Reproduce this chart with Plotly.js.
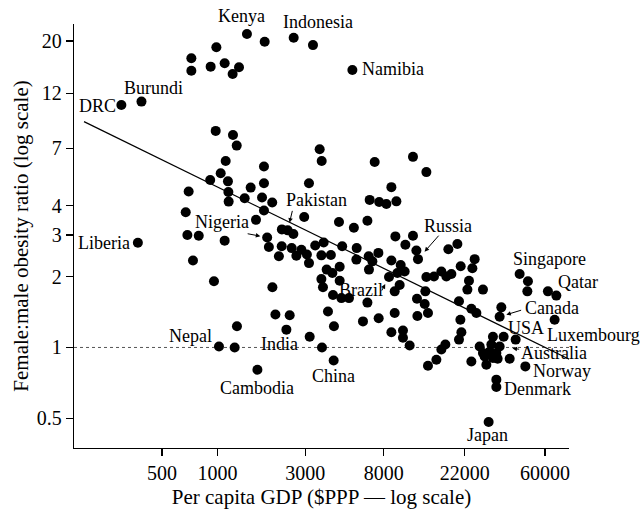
<!DOCTYPE html>
<html>
<head>
<meta charset="utf-8">
<script src="https://cdn.plot.ly/plotly-3.0.1.min.js"></script>
<style>
  html, body { margin: 0; padding: 0; background: #fff; }
  #chart { width: 644px; height: 510px; }
</style>
</head>
<body>
<div id="chart"></div>
<script>
// Countries called out by name: per capita GDP ($PPP) and female:male obesity ratio
const labeledCountry = ["Kenya", "Indonesia", "Namibia", "Burundi", "DRC", "Liberia",
  "Pakistan", "Nigeria", "Russia", "Brazil", "Singapore", "Qatar", "Canada", "USA",
  "Luxembourg", "Australia", "Norway", "Denmark", "Japan", "China", "India", "Nepal", "Cambodia"];
const labeledGdp = [1447, 3303, 5406, 387, 301, 370,
  2408, 1863, 12277, 8543, 43760, 69220, 34070, 41630,
  67760, 34070, 46990, 32700, 29700, 4278, 3697, 1020, 1649];
const labeledRatio = [21.4, 19.2, 15.06, 11.05, 10.7, 2.78,
  3.14, 2.93, 2.37, 1.99, 2.05, 1.66, 1.35, 1.08,
  1.31, 1.01, 0.831, 0.679, 0.483, 0.881, 1.00, 1.01, 0.804];

// All other countries
const otherGdp = [1806, 2595, 722, 722, 987, 919, 1095, 1310, 1210,
  979, 1215, 1273, 3592, 3683, 7144, 11532, 13632, 1109, 1790,
  914, 1042, 1141, 1147, 1151, 698, 1516, 1790, 3142, 8803,
  1406, 1747, 1984, 1790, 673, 2960, 1620, 6711, 7557, 8270, 9370,
  4572, 5508, 6523, 687, 792, 1095, 2239, 2585, 1903, 2234, 2531,
  2858, 3396, 3776, 9254, 11532, 10485, 12033, 17950, 20092, 4759,
  5704, 737, 2157, 2684, 3061, 3669, 4132, 6629, 7482, 8803, 24937,
  3142, 3920, 4612, 5682, 6941, 9887, 958, 1989, 3669, 3743, 4210,
  4612, 4242, 4711, 5181, 6653, 9487, 10394, 9763, 9174, 13632,
  14995, 16444, 17508, 18637, 20937, 24230, 13464, 12125, 13347,
  6523, 3985, 2065, 2469, 1277, 2369, 3170, 1241, 4294, 7510, 6172,
  9174, 12185, 13908, 8803, 10174, 10174, 11064, 13908, 15451, 16444,
  17288, 20498, 21120, 20860, 20498, 23223, 22763, 27660, 23930, 25470,
  48540, 48180, 62320, 34800, 38630, 32700, 31340, 35820, 26540, 30720,
  27660, 30080, 32700, 31340, 28860, 23930, 28250, 33230];
const otherRatio = [19.85, 20.64, 16.88, 14.95, 18.79, 15.55, 16.07, 15.46, 14.48,
  8.30, 7.98, 7.19, 6.94, 6.19, 6.13, 6.44, 5.55, 6.19, 5.86,
  5.14, 5.49, 5.07, 4.57, 4.16, 4.59, 4.77, 4.98, 4.98, 4.79,
  4.30, 4.33, 4.12, 3.81, 3.75, 3.58, 3.48, 4.23, 4.14, 4.06, 4.17,
  3.41, 3.22, 3.45, 3.00, 2.98, 2.84, 3.17, 3.03, 2.67, 2.69, 2.64,
  2.60, 2.71, 2.79, 2.96, 2.98, 2.73, 2.58, 2.61, 2.75, 2.69,
  2.64, 2.34, 2.44, 2.45, 2.48, 2.46, 2.47, 2.44, 2.52, 2.34, 2.37,
  2.28, 2.14, 2.20, 2.36, 2.32, 2.24, 1.91, 1.80, 1.95, 1.80, 2.07,
  1.92, 1.67, 1.62, 1.62, 2.14, 2.07, 2.10, 1.84, 1.73, 1.99,
  2.00, 2.10, 2.00, 2.05, 2.21, 2.17, 1.73, 1.61, 1.53,
  1.55, 1.42, 1.38, 1.37, 1.23, 1.19, 1.11, 1.00, 1.23, 1.33, 1.29,
  1.40, 1.36, 1.40, 1.16, 1.18, 1.10, 1.02, 0.836, 0.887, 0.98,
  1.03, 1.08, 1.16, 1.31, 1.57, 1.92, 1.76, 1.76, 1.46, 1.40,
  1.91, 1.73, 1.73, 1.48, 0.896, 0.730, 1.11, 1.11, 1.01, 1.03,
  0.947, 0.96, 0.947, 0.902, 0.845, 0.872, 0.916, 0.896];

// Fitted log-log regression line (end points)
const fitGdp = [188.7, 89550];
const fitRatio = [9.09, 0.859];

// Axis ticks
const xTickVals = [500, 1000, 3000, 8000, 22000, 60000];
const xTickText = ["500", "1000", "3000", "8000", "22000", "60000"];
const yTickVals = [0.5, 1, 2, 3, 4, 7, 12, 20];
const yTickText = ["0.5", "1", "2", "3", "4", "7", "12", "20"];

// Label placement around each named point (pixel offsets)
const labelPlacement = {
  Kenya:      {xanchor: "center", dx: -5,  dy: 18},
  Indonesia:  {xanchor: "center", dx: 5,   dy: 23},
  Namibia:    {xanchor: "left",   dx: 9,   dy: 1},
  Burundi:    {xanchor: "center", dx: 12,  dy: 14},
  DRC:        {xanchor: "right",  dx: -4,  dy: -1},
  Liberia:    {xanchor: "right",  dx: -7,  dy: 0},
  Pakistan:   {xanchor: "center", dx: 29,  dy: 30},
  Nigeria:    {xanchor: "center", dx: -45, dy: 15},
  Russia:     {xanchor: "center", dx: 30,  dy: 33},
  Brazil:     {xanchor: "center", dx: -28, dy: -13},
  Singapore:  {xanchor: "center", dx: 30,  dy: 15},
  Qatar:      {xanchor: "center", dx: 22,  dy: 14},
  Canada:     {xanchor: "center", dx: 52,  dy: 9},
  USA:        {xanchor: "center", dx: 10,  dy: 12},
  Luxembourg: {xanchor: "left",   dx: -9,  dy: -15},
  Australia:  {xanchor: "left",   dx: 20,  dy: -7},
  Norway:     {xanchor: "left",   dx: 7,   dy: -5},
  Denmark:    {xanchor: "left",   dx: 7,   dy: -2},
  Japan:      {xanchor: "center", dx: -1,  dy: -13},
  China:      {xanchor: "center", dx: 0,   dy: -16},
  India:      {xanchor: "center", dx: -42, dy: 3},
  Nepal:      {xanchor: "center", dx: -28, dy: 10},
  Cambodia:   {xanchor: "center", dx: 0,   dy: -18}
};

// Pointer arrows: tail offset from the point (px) and gap left at the point
const arrowPlacement = {
  Nigeria:   {ax: -21, ay: -4,  gap: 7},
  Pakistan:  {ax: 5,   ay: -21, gap: 8},
  Russia:    {ax: 22,  ay: -25, gap: 10},
  Brazil:    {ax: -8,  ay: 15,  gap: 8},
  Canada:    {ax: 23,  ay: -7,  gap: 7},
  Australia: {ax: 21,  ay: 3,   gap: 13}
};

const FONT = "Liberation Serif, Times New Roman, serif";

const traces = [
  {
    x: fitGdp, y: fitRatio, type: "scatter", mode: "lines",
    line: {color: "#000", width: 1.2}, hoverinfo: "skip"
  },
  {
    x: otherGdp.concat(labeledGdp), y: otherRatio.concat(labeledRatio),
    type: "scatter", mode: "markers", cliponaxis: false,
    marker: {color: "#000", size: 10, line: {width: 0}}
  }
];

const annotations = [];
labeledCountry.forEach((name, i) => {
  const p = labelPlacement[name];
  annotations.push({
    x: Math.log10(labeledGdp[i]), y: Math.log10(labeledRatio[i]),
    xref: "x", yref: "y", text: name, showarrow: false,
    xanchor: p.xanchor, yanchor: "middle", xshift: p.dx, yshift: p.dy,
    font: {family: FONT, size: 18, color: "#000"}, borderpad: 0
  });
  const a = arrowPlacement[name];
  if (a) {
    annotations.push({
      x: Math.log10(labeledGdp[i]), y: Math.log10(labeledRatio[i]),
      xref: "x", yref: "y", text: "", showarrow: true,
      ax: a.ax, ay: a.ay, standoff: a.gap,
      arrowhead: 2, arrowsize: 0.9, arrowwidth: 1, arrowcolor: "#000"
    });
  }
});

const axisCommon = {
  type: "log", showline: true, linecolor: "#000", linewidth: 1.3,
  ticks: "outside", ticklen: 7, tickwidth: 1.3, tickcolor: "#000",
  showgrid: false, zeroline: false,
  tickfont: {family: FONT, size: 20, color: "#000"}
};

const layout = {
  width: 644, height: 510,
  margin: {l: 74, r: 75, t: 24, b: 62},
  paper_bgcolor: "#fff", plot_bgcolor: "#fff",
  showlegend: false,
  font: {family: FONT, color: "#000"},
  xaxis: Object.assign({}, axisCommon, {
    range: [2.2214, 4.909],
    tickvals: xTickVals, ticktext: xTickText,
    title: {text: "Per capita GDP ($PPP \u2014 log scale)", font: {family: FONT, size: 21, color: "#000"}, standoff: 6}
  }),
  yaxis: Object.assign({}, axisCommon, {
    range: [-0.4267, 1.3728],
    tickvals: yTickVals, ticktext: yTickText,
    title: {text: "Female:male obesity ratio (log scale)", font: {family: FONT, size: 21, color: "#000"}, standoff: 2}
  }),
  shapes: [{
    type: "line", xref: "paper", x0: 0, x1: 1, yref: "y", y0: 1, y1: 1,
    layer: "below", line: {color: "#555", width: 1, dash: "dot"}
  }],
  annotations: annotations
};

Plotly.newPlot("chart", traces, layout, {displayModeBar: false, staticPlot: true});
</script>
</body>
</html>
